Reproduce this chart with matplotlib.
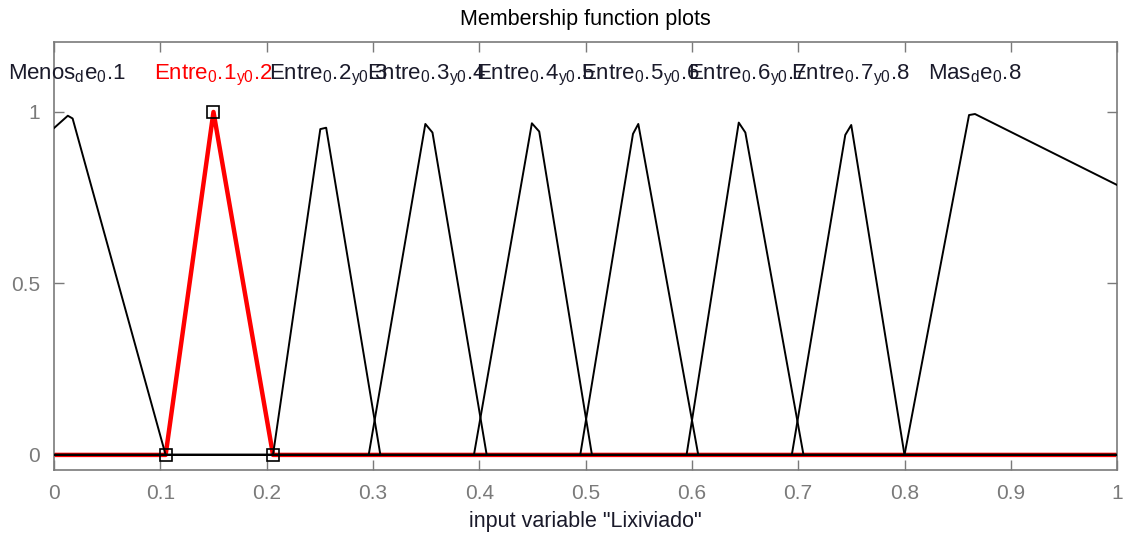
import matplotlib
matplotlib.use('Agg')
import matplotlib.pyplot as plt

plt.rcParams['font.family'] = ['Liberation Sans', 'DejaVu Sans']
plt.rcParams['mathtext.fontset'] = 'custom'
plt.rcParams['mathtext.rm'] = 'Liberation Sans'
plt.rcParams['mathtext.it'] = 'Liberation Sans:italic'

# membership functions of "Lixiviado" (polyline vertices over the whole range)
menos_x = [0.0, 0.013, 0.0175, 0.105, 1.0]
menos_y = [0.953, 0.989, 0.981, 0.0, 0.0]
entre01_x = [0.0, 0.105, 0.15, 0.206, 1.0]
entre01_y = [0.0, 0.0, 1.0, 0.0, 0.0]
entre02_x = [0.0, 0.206, 0.2505, 0.256, 0.307, 1.0]
entre02_y = [0.0, 0.0, 0.950, 0.954, 0.0, 0.0]
entre03_x = [0.0, 0.296, 0.3493, 0.356, 0.407, 1.0]
entre03_y = [0.0, 0.0, 0.965, 0.940, 0.0, 0.0]
entre04_x = [0.0, 0.395, 0.4495, 0.4564, 0.506, 1.0]
entre04_y = [0.0, 0.0, 0.967, 0.943, 0.0, 0.0]
entre05_x = [0.0, 0.495, 0.5446, 0.5496, 0.606, 1.0]
entre05_y = [0.0, 0.0, 0.936, 0.965, 0.0, 0.0]
entre06_x = [0.0, 0.595, 0.6441, 0.6503, 0.705, 1.0]
entre06_y = [0.0, 0.0, 0.969, 0.940, 0.0, 0.0]
entre07_x = [0.0, 0.694, 0.7443, 0.7499, 0.800, 1.0]
entre07_y = [0.0, 0.0, 0.933, 0.962, 0.0, 0.0]
mas_x = [0.0, 0.8, 0.8607, 0.8663, 1.0]
mas_y = [0.0, 0.0, 0.991, 0.994, 0.787]

# selected mf (drawn red) and its parameter points
sel_params_x = [0.105, 0.15, 0.206]
sel_params_y = [0.0, 1.0, 0.0]

# names as the tex interpreter shows them (underscore lowers the next char);
# \! cancels the gap mathtext puts after a dot
mf_names = [r'$\mathrm{Menos_{d}e_{0}.\!1}$',
            r'$\mathrm{Entre_{0}.\!1_{y0}.\!2}$',
            r'$\mathrm{Entre_{0}.\!2_{y0}.\!3}$',
            r'$\mathrm{Entre_{0}.\!3_{y0}.\!4}$',
            r'$\mathrm{Entre_{0}.\!4_{y0}.\!5}$',
            r'$\mathrm{Entre_{0}.\!5_{y0}.\!6}$',
            r'$\mathrm{Entre_{0}.\!6_{y0}.\!7}$',
            r'$\mathrm{Entre_{0}.\!7_{y0}.\!8}$',
            r'$\mathrm{Mas_{d}e_{0}.\!8}$']
name_x = [0.012, 0.15, 0.258, 0.351, 0.453, 0.552, 0.652, 0.749, 0.866]

xticks = [0, 0.1, 0.2, 0.3, 0.4, 0.5, 0.6, 0.7, 0.8, 0.9, 1]
xticklabels = ['0', '0.1', '0.2', '0.3', '0.4', '0.5', '0.6', '0.7', '0.8', '0.9', '1']
yticks = [0, 0.5, 1]
yticklabels = ['0', '0.5', '1']

gray = '#7a7a7a'

fig = plt.figure(figsize=(11.25, 5.35), dpi=100)
ax = fig.add_axes([0.048, 0.1215, 0.945, 0.8])

ax.plot(entre01_x, entre01_y, color='red', lw=3.2, zorder=2)
black = [(menos_x, menos_y), (entre02_x, entre02_y), (entre03_x, entre03_y),
         (entre04_x, entre04_y), (entre05_x, entre05_y), (entre06_x, entre06_y),
         (entre07_x, entre07_y), (mas_x, mas_y)]
for xs, ys in black:
    ax.plot(xs, ys, color='black', lw=1.4, zorder=3)
ax.plot(sel_params_x, sel_params_y, ls='none', marker='s', ms=9,
        mfc='none', mec='black', mew=1.2, zorder=4, clip_on=False)

for i, (name, nx) in enumerate(zip(mf_names, name_x)):
    ax.text(nx, 1.095, name, ha='center', va='baseline', fontsize=16,
            color='red' if i == 1 else '#1a1a2a', zorder=5)

ax.set_xlim(0, 1)
ax.set_ylim(-0.044, 1.204)
ax.set_xticks(xticks)
ax.set_xticklabels(xticklabels)
ax.set_yticks(yticks)
ax.set_yticklabels(yticklabels)
ax.tick_params(direction='in', length=7, width=1, colors=gray, labelsize=15,
               top=True, right=True, pad=10)
for s in ax.spines.values():
    s.set_color(gray)
    s.set_linewidth(1.2)

ax.set_title('Membership function plots', fontsize=15.5, pad=12)
ax.set_xlabel('input variable "Lixiviado"', fontsize=15.5, color='#1a1a2a', labelpad=6)

fig.savefig('out.png', dpi=100)
